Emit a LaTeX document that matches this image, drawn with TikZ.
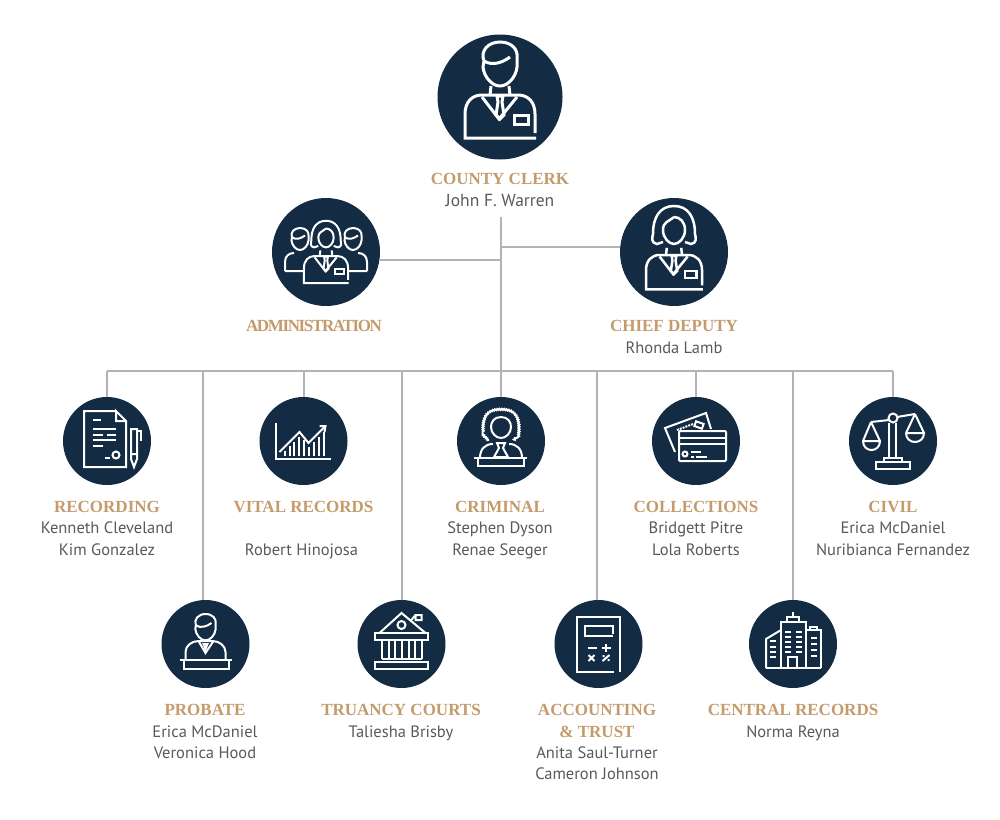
\documentclass[tikz,border=0pt]{standalone}
\usepackage{fontspec}
\setmainfont{PT Sans}
\newfontfamily\headfont{Liberation Serif}
\newfontfamily\tightfont[LetterSpace=-8]{Liberation Serif}
\usetikzlibrary{decorations.pathmorphing}
\definecolor{discnavy}{HTML}{132B43}
\definecolor{headgold}{HTML}{C49B6C}
\definecolor{namegray}{HTML}{58595B}
\definecolor{wiregray}{HTML}{B1B3B6}
\newcommand{\headline}[1]{{\color{headgold}\headfont\fontsize{17}{21.3}\selectfont\bfseries #1}}
% Icons, all around the centre of their disc
\tikzset{
    manhead/.pic={
        \draw[fill=discnavy] (-16,-36) .. controls (-20,-46) and (-12,-55) .. (0,-55)
            .. controls (12,-55) and (18,-47) .. (17,-40) -- (17,-30)
            .. controls (16,-20) and (8,-11) .. (0,-11)
            .. controls (-8,-11) and (-16,-20) .. (-17,-30) -- cycle;
        \draw (-16,-36) .. controls (-8,-31) and (2,-34) .. (10,-40);
    },
    womanhead/.pic={
        \draw[fill=discnavy] (-11,-10) -- (-17,-8) .. controls (-23,-9) and (-22,-14) .. (-21,-18)
            .. controls (-21,-35) and (-14,-46) .. (0,-46)
            .. controls (14,-46) and (21,-35) .. (21,-18)
            .. controls (22,-14) and (23,-9) .. (17,-8) -- (11,-10);
        \draw (0,-35) .. controls (-6,-30) and (-11,-30) .. (-11,-22)
            .. controls (-11,-14) and (-5,-8) .. (0,-8)
            .. controls (5,-8) and (11,-14) .. (11,-22)
            .. controls (11,-30) and (6,-35) .. (0,-35);
    },
    bustbody/.pic={
        \draw[fill=discnavy] (35,36) -- (35,17) .. controls (35,5) and (28,-2) .. (18,-2)
            -- (-18,-2) .. controls (-28,-2) and (-35,5) .. (-35,17) -- (-35,41) -- (36,41);
        \draw (-9,-11) -- (-10,-2) (9,-11) -- (10,-2);
        \draw (-18,0) -- (-1,22) -- (17,0);
        \draw (-3,-1) -- (3,-1) -- (2,5) -- (4,18) -- (0,22) -- (-4,18) -- (-2,5) -- cycle;
        \draw (14,18) rectangle (28,27);
    },
    docicon/.pic={
        \draw (9,-30) -- (-23,-30) -- (-23,26) -- (19,26) -- (19,-20) -- (9,-30) -- (9,-20) -- (19,-20);
        \draw (-14,-21) -- (-6,-21) (-14,-12) -- (9,-12) (-14,-6) -- (-4,-6) (0,-6) -- (9,-6)
            (-14,-1) -- (9,-1) (-14,5) -- (-4,5) (-2,17) -- (3,17);
        \draw (9,14) circle (3.5);
        \draw (24,-12) -- (30,-12) -- (30,18) -- (27,26) -- (24,18) -- cycle (24,13) -- (30,13);
        \draw (30,-10) -- (34,-10) -- (34,0);
    },
    charticon/.pic={
        \draw (-28,-18) -- (-28,18) -- (27,18);
        \draw (-24,11) -- (-4,-9) -- (5,2) -- (22,-15);
        \draw (16,-15) -- (22,-15) -- (21,-9);
        \draw (-19,15) -- (-19,10) (-14,15) -- (-14,5) (-10,15) -- (-10,1) (-5,15) -- (-5,-4)
            (0,15) -- (0,-1) (5,15) -- (5,6) (10,15) -- (10,1) (15,15) -- (15,-4) (20,15) -- (20,-9);
    },
    judgeicon/.pic={
        \draw[decorate,decoration={bumps,segment length=4.5pt,amplitude=1.2pt}]
            (-12,-1) -- (-17,-6) .. controls (-19,-26) and (-12,-31) .. (0,-31)
            .. controls (12,-31) and (19,-26) .. (17,-6) -- (12,-1);
        \draw (0,-24) .. controls (-7,-24) and (-10,-19) .. (-10,-14) .. controls (-10,-8) and (-5,-3) .. (0,-3)
            .. controls (5,-3) and (10,-8) .. (10,-14) .. controls (10,-19) and (7,-24) .. (0,-24);
        \draw (-21,17) .. controls (-21,8) and (-16,3) .. (-8,3) (21,17) .. controls (21,8) and (16,3) .. (8,3);
        \draw (-4,2) -- (4,2) -- (2,7) -- (7,16) -- (-7,16) -- (-2,7) -- cycle;
        \draw (-27,17) -- (26,17) (-23,17) -- (-23,25) -- (23,25) -- (23,17);
    },
    cardicon/.pic={
        \draw (-21,11) -- (-31,-13) -- (10,-28) -- (15,-12);
        \draw[densely dotted] (-19,-11) -- (-3,-17);
        \draw[rotate around={-20:(3,-16)}] (-1,-18.5) rectangle (7,-13.5);
        \draw[rounded corners=1pt] (-17,-10) rectangle (30,20);
        \draw (-17,-3) -- (30,-3) (-17,3) -- (30,3);
        \draw (-11,13) circle (2.5);
        \draw (-5,11) -- (5,11) (-5,16) -- (-2,16) (0,16) -- (11,16);
    },
    scaleicon/.pic={
        \draw (0,-23) circle (4.5);
        \draw (-4,-21) -- (-22,-19) (4,-24) -- (22,-27);
        \draw (-4,-18) -- (-4,17) (3,-18) -- (3,17);
        \draw (-22,-19) -- (-30,0) (-22,-19) -- (-13,0);
        \draw (-30,0) -- (-13,0) .. controls (-13,12) and (-30,12) .. (-30,0);
        \draw (22,-27) -- (13,-8) (22,-27) -- (31,-8);
        \draw (13,-8) -- (31,-8) .. controls (31,4) and (13,4) .. (13,-8);
        \draw (-9,21) -- (-9,17) -- (9,17) -- (9,21);
        \draw (-17,21) rectangle (17,28);
    },
    lecternicon/.pic={
        \draw (-20,16) -- (-20,8) .. controls (-20,2) and (-14,-3) .. (-7,-3)
            -- (7,-3) .. controls (14,-3) and (20,2) .. (20,8) -- (20,16);
        \draw (-7,-3) -- (0,9) -- (8,-3);
        \draw (-2,0) -- (2,0) -- (0,5) -- cycle;
        \draw (-26,16) -- (26,16) (-22,16) -- (-22,25) -- (23,25) -- (23,16);
    },
    courticon/.pic={
        \draw (-22,-11) -- (0,-31) -- (24,-11);
        \draw (0,-19) circle (4);
        \draw (9,-23) -- (14,-29) (14,-29) rectangle (20,-24);
        \draw (-27,-11) rectangle (26,-4);
        \draw (-20,-4) -- (-20,15) (-13,-4) -- (-13,15) (-7,-4) -- (-7,15) (0,-4) -- (0,15)
            (7,-4) -- (7,15) (13,-4) -- (13,15) (20,-4) -- (20,15);
        \draw (-20,15) -- (20,15);
        \draw (-27,18) rectangle (26,25);
    },
    calcicon/.pic={
        \draw (21,23) -- (21,-27) -- (-22,-27) -- (-22,28) -- (15,28) (21,28) -- (21,23);
        \draw (14,-10) -- (14,-18) -- (-14,-18) -- (-14,-8) -- (14,-8);
        \draw (-11,4) -- (-2,4) (3,4) -- (12,4) (7.5,0) -- (7.5,8);
        \draw (-10,11) -- (-4,17) (-10,17) -- (-4,11);
        \draw (4,17) -- (11,11) (4,12) -- (6,12) (9,16) -- (11,16);
    },
    towericon/.pic={
        \draw (-27,24) -- (28,24);
        \draw (-27,24) -- (-27,-5) -- (-12,-14);
        \draw (-12,24) -- (-12,-22) -- (13,-22) -- (13,24);
        \draw (13,-14) -- (28,-14) -- (28,24) (17,-14) -- (17,-17) -- (24,-17) -- (24,-14);
        \draw (-6,-22) -- (-6,-27) -- (6,-27) -- (6,-22) (0,-27) -- (0,-32);
        \draw (-5,24) -- (-5,13) -- (4,13) -- (4,24);
        \draw (-8,-12) -- (-2,-12) (3,-12) -- (9,-12) (-8,-7) -- (-2,-7) (3,-7) -- (9,-7)
            (-8,-2) -- (-2,-2) (3,-2) -- (9,-2) (-8,3) -- (-2,3) (3,3) -- (9,3) (-8,8) -- (-2,8) (3,8) -- (9,8);
        \draw (-23,-3) -- (-17,-3) (-23,3) -- (-17,3) (-23,8) -- (-17,8) (-23,13) -- (-17,13);
        \draw (18,-6) -- (24,-6) (18,0) -- (24,0) (18,6) -- (24,6) (18,12) -- (24,12);
    }
}
\begin{document}
\begin{tikzpicture}[x=1pt,y=-1pt,
        disc/.style={circle, fill=discnavy, inner sep=0pt, minimum size=88pt},
        middisc/.style={disc, minimum size=108pt},
        bigdisc/.style={disc, minimum size=125pt},
        icon/.style={draw=white, line width=2pt, line join=miter},
        caption/.style={anchor=north, align=center, inner sep=0pt, text=namegray, font=\fontsize{16.5}{21.3}\selectfont},
        wire/.style={draw=wiregray, line width=2pt}]
    \useasboundingbox (0,0) rectangle (1000,819);
    % Discs of the upper levels
    \node[bigdisc] (clerk) at (500,97) {};
    \node[middisc] (admin) at (326,252) {};
    \node[middisc] (chief) at (674,252) {};
    % Discs of the first row
    \node[disc] (recording) at (107,441) {};
    \node[disc] (vital) at (303.5,441) {};
    \node[disc] (criminal) at (501,441) {};
    \node[disc] (collections) at (696,441) {};
    \node[disc] (civil) at (893,441) {};
    % Discs of the second row
    \node[disc] (probate) at (205.5,644) {};
    \node[disc] (truancy) at (401.5,644) {};
    \node[disc] (accounting) at (598.5,644) {};
    \node[disc] (central) at (793,644) {};
    % Icons
    \pic[icon, line width=3pt] at (clerk) {manhead};
    \pic[icon, line width=3pt] at (clerk) {bustbody};
    \pic[icon, line width=2.5pt, shift={(0,4.6)}, scale=.8] at (chief) {bustbody};
    \pic[icon, line width=2.5pt] at (chief) {womanhead};
    \pic[icon, shift={(-26,3.5)}, scale=.5] at (admin) {manhead};
    \pic[icon, shift={(27,3.5)}, scale=.5] at (admin) {manhead};
    \draw[icon, shift={(admin)}] (-41,19) -- (-41,10) .. controls (-41,4) and (-37,1) .. (-32,1)
        (41,19) -- (41,10) .. controls (41,4) and (37,1) .. (32,1) (-41,19) -- (-22,19) (41,19) -- (22,19);
    \pic[icon, shift={(0,5.3)}, scale=.63] at (admin) {bustbody};
    \pic[icon, shift={(0,1)}, scale=.7] at (admin) {womanhead};
    \pic[icon] at (recording) {docicon};
    \pic[icon] at (vital) {charticon};
    \pic[icon] at (criminal) {judgeicon};
    \pic[icon] at (collections) {cardicon};
    \pic[icon] at (civil) {scaleicon};
    \pic[icon, shift={(0,3)}, scale=.6] at (probate) {manhead};
    \pic[icon] at (probate) {lecternicon};
    \pic[icon] at (truancy) {courticon};
    \pic[icon] at (accounting) {calcicon};
    \pic[icon] at (central) {towericon};
    % Texts
    \node[caption] (clerk-text) at (500,173.5) {\headline{COUNTY CLERK}\\{\fontsize{17.5}{21.3}\selectfont John F. Warren}};
    \node[caption] (admin-text) at (314,320.5) {{\color{headgold}\tightfont\fontsize{17}{21.3}\selectfont\bfseries ADMINISTRATION}};
    \node[caption] (chief-text) at (674,320.5) {\headline{CHIEF DEPUTY}\\Rhonda Lamb};
    \node[caption] (recording-text) at (107,501) {\headline{RECORDING}\\Kenneth Cleveland\\Kim Gonzalez};
    \node[caption] (vital-text) at (303.5,501) {\headline{VITAL RECORDS}\\\mbox{}\\Robert Hinojosa\hspace*{4pt}};
    \node[caption] (criminal-text) at (500,501) {\headline{CRIMINAL}\\Stephen Dyson\\Renae Seeger};
    \node[caption] (collections-text) at (696,501) {\headline{COLLECTIONS}\\Bridgett Pitre\\Lola Roberts};
    \node[caption] (civil-text) at (893,501) {\headline{CIVIL}\\Erica McDaniel\\Nuribianca Fernandez};
    \node[caption] (probate-text) at (205,704.5) {\headline{PROBATE}\\Erica McDaniel\\Veronica Hood};
    \node[caption] (truancy-text) at (401,704.5) {\headline{TRUANCY COURTS}\\Taliesha Brisby};
    \node[caption] (accounting-text) at (597,704.5) {\headline{ACCOUNTING}\\\headline{\& TRUST}\\Anita Saul-Turner\\Cameron Johnson};
    \node[caption] (central-text) at (793,704.5) {\headline{CENTRAL RECORDS}\\Norma Reyna};
    % Points where the lines meet
    \coordinate (trunk-top) at (501,217);
    \coordinate (chief-joint) at (501,247);
    \coordinate (admin-joint) at (501,260);
    \coordinate (bus-mid) at (501,371);
    \coordinate (bus-recording) at (107,371);
    \coordinate (bus-probate) at (203,371);
    \coordinate (bus-vital) at (303.5,371);
    \coordinate (bus-truancy) at (401.5,371);
    \coordinate (bus-accounting) at (597,371);
    \coordinate (bus-collections) at (696,371);
    \coordinate (bus-central) at (793,371);
    \coordinate (bus-civil) at (893,371);
    % Draw lines
    \draw[wire] (trunk-top) -- (bus-mid) -- (criminal);
    \draw[wire] (chief-joint) -- (chief-joint -| chief.174.7);
    \draw[wire] (admin-joint) -- (admin-joint -| admin.-8.5);
    \draw[wire] (bus-recording) -- (bus-civil);
    \draw[wire] (bus-recording) -- (recording);
    \draw[wire] (bus-probate) -- (bus-probate |- probate.north);
    \draw[wire] (bus-vital) -- (vital);
    \draw[wire] (bus-truancy) -- (truancy);
    \draw[wire] (bus-accounting) -- (bus-accounting |- accounting.north);
    \draw[wire] (bus-collections) -- (collections);
    \draw[wire] (bus-central) -- (central);
    \draw[wire] (bus-civil) -- (civil);
\end{tikzpicture}
\end{document}
